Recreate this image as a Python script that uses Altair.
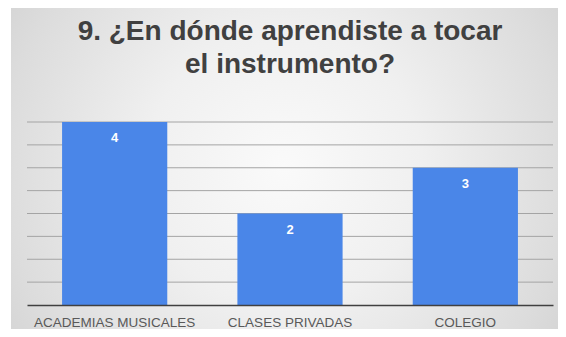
import altair as alt
import pandas as pd

categories = ["ACADEMIAS MUSICALES", "CLASES PRIVADAS", "COLEGIO"]
counts = [4, 2, 3]
grid_values = [0.5, 1, 1.5, 2, 2.5, 3, 3.5, 4]
title_lines = ["9. ¿En dónde aprendiste a tocar", "el instrumento?"]

df = pd.DataFrame({"lugar": categories, "n": counts})
grid_df = pd.DataFrame({"g": grid_values})

W, H = 526, 183
PAD = {"left": 19, "right": 5, "top": 114, "bottom": 24}
FONT = "Liberation Sans"

yscale = alt.Scale(domain=[0, 4], nice=False)

bg = alt.Chart(alt.Data(values=[{}])).mark_rect(
    color=alt.Gradient(
        gradient="radial",
        stops=[
            alt.GradientStop(color="#fafafa", offset=0),
            alt.GradientStop(color="#f0f0f0", offset=0.35),
            alt.GradientStop(color="#dcdcdc", offset=0.72),
            alt.GradientStop(color="#c9c9c9", offset=1),
        ],
        x1=0.5, y1=0.5, r1=0, x2=0.5, y2=0.5, r2=0.72,
    )
).encode(
    x=alt.value(-16), x2=alt.value(W + PAD["right"]),
    y=alt.value(-PAD["top"]), y2=alt.value(H + PAD["bottom"]),
)

grid = alt.Chart(grid_df).mark_rule(color="#a4a4a4", strokeWidth=1).encode(
    y=alt.Y("g:Q", scale=yscale, axis=None),
    x=alt.value(0), x2=alt.value(W),
)

base = alt.Chart(df).encode(
    x=alt.X("lugar:N", sort=None,
            scale=alt.Scale(paddingInner=0.4, paddingOuter=0.2),
            axis=alt.Axis(title=None, labelAngle=0, ticks=False, labelPadding=10,
                          labelFont=FONT, labelFontSize=13.5, labelColor="#595959",
                          domainColor="#404040", domainWidth=1.5, grid=False,
                          zindex=1)),
    y=alt.Y("n:Q", scale=yscale, axis=None),
)

bars = base.mark_bar(color="#4a86e8")
labels = base.mark_text(baseline="top", dy=10, color="white", font=FONT,
                        fontWeight="bold", fontSize=13).encode(text="n:Q")

chart = alt.layer(bg, grid, bars, labels).properties(
    width=W, height=H,
    padding=PAD,
    autosize=alt.AutoSizeParams(type="none"),
    title=alt.TitleParams(title_lines, font=FONT, fontSize=28, fontWeight="bold",
                          color="#404040", lineHeight=33, anchor="middle", offset=-71),
).configure_view(stroke=None).configure(background="white")

chart.save("out.html", embed_options={"renderer": "svg", "actions": False})
